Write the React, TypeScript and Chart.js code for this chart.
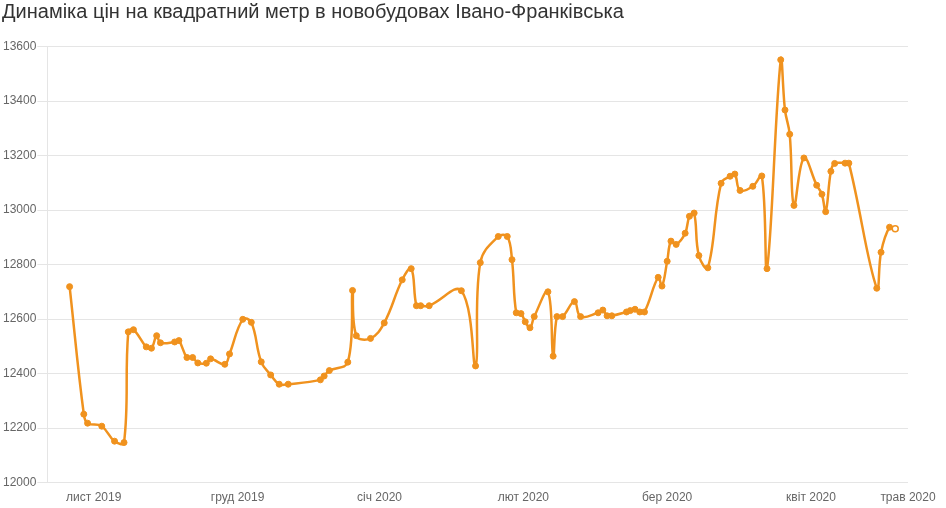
import React, { useEffect, useRef } from "react";
import { Chart, registerables } from "chart.js";

Chart.register(...registerables);

// Days counted from 1 Nov 2019
const days: number[] = [
  -5.1, -2.1, -1.3, 1.7, 4.4, 6.4, 7.3, 8.4, 11.1, 12.2,
  13.3, 14.1, 17.1, 18.0, 19.7, 20.9, 22.0, 23.8, 24.7, 27.7,
  28.7, 31.5, 33.3, 35.4, 37.4, 39.2, 41.1, 47.9, 48.7, 49.8,
  53.7, 54.7, 55.5, 58.5, 61.4, 65.2, 67.1, 68.2, 69.1, 70.9,
  77.7, 80.7, 81.7, 85.5, 87.4, 88.4, 89.3, 90.3, 91.2, 92.2,
  93.1, 96.0, 97.1, 97.9, 99.1, 101.6, 102.9, 106.6, 107.6, 108.5,
  109.5, 112.6, 113.4, 114.4, 115.4, 116.4, 119.3, 120.1, 121.2, 122.0,
  123.1, 125.0, 125.9, 126.9, 127.9, 129.8, 132.6, 134.5, 135.5, 136.6,
  139.3, 141.2, 142.3, 145.2, 146.1, 147.1, 148.0, 150.1, 152.8, 153.9,
  154.7, 155.8, 156.6, 158.8, 159.6, 165.5, 166.4, 168.2, 169.4,
];

const prices: number[] = [
  12719, 12251, 12218, 12207, 12152, 12147, 12553, 12561, 12498, 12493,
  12539, 12513, 12516, 12521, 12459, 12459, 12439, 12438, 12454, 12434,
  12472, 12599, 12588, 12443, 12395, 12361, 12361, 12377, 12391, 12411,
  12442, 12705, 12539, 12529, 12586, 12744, 12785, 12649, 12649, 12649,
  12704, 12428, 12807, 12903, 12903, 12818, 12623, 12620, 12590, 12568,
  12609, 12700, 12464, 12609, 12609, 12664, 12609, 12623, 12633, 12612,
  12612, 12626, 12631, 12636, 12626, 12626, 12753, 12721, 12812, 12886,
  12874, 12915, 12977, 12989, 12833, 12788, 13098, 13124, 13132, 13072,
  13087, 13125, 12785, 13551, 13367, 13278, 13017, 13191, 13091, 13058,
  12994, 13142, 13171, 13172, 13172, 12713, 12845, 12937, 12931,
];

const tickValues: number[] = [0, 30.4, 60.4, 90.8, 121.2, 151.6, 172.1];
const tickLabels: string[] = [
  "лист 2019",
  "груд 2019",
  "січ 2020",
  "лют 2020",
  "бер 2020",
  "квіт 2020",
  "трав 2020",
];

const titleText = "Динаміка цін на квадратний метр в новобудовах Івано-Франківська";

const X_MIN = -9.8;
const X_MAX = 172.1;
const Y_MIN = 12000;
const Y_MAX = 13600;
const Y_STEP = 200;

const ORANGE = "#f0921e";
const FONT = "'Liberation Sans', Arial, sans-serif";

export default function App() {
  const canvasRef = useRef<HTMLCanvasElement | null>(null);

  useEffect(() => {
    if (!canvasRef.current) return;
    const lastIndex = prices.length - 1;
    const chart = new Chart(canvasRef.current, {
      type: "line",
      data: {
        datasets: [
          {
            data: days.map((d, i) => ({ x: d, y: prices[i] })),
            borderColor: ORANGE,
            backgroundColor: ORANGE,
            borderWidth: 2.5,
            pointRadius: 3,
            pointBorderWidth: prices.map((_, i) => (i === lastIndex ? 1.5 : 1)),
            pointBackgroundColor: prices.map((_, i) => (i === lastIndex ? "#ffffff" : ORANGE)),
            pointBorderColor: ORANGE,
            tension: 0.4,
            fill: false,
          },
        ],
      },
      options: {
        animation: false,
        responsive: true,
        maintainAspectRatio: false,
        layout: { padding: { left: 2, right: 38, top: 0, bottom: -5 } },
        plugins: {
          legend: { display: false },
          tooltip: { enabled: false },
          title: {
            display: true,
            text: titleText,
            align: "start",
            color: "#333",
            font: { family: FONT, size: 20, weight: "normal" },
            padding: { top: 0, bottom: 22.5 },
          },
        },
        scales: {
          x: {
            type: "linear",
            min: X_MIN,
            max: X_MAX,
            afterBuildTicks: (axis: any) => {
              axis.ticks = tickValues.map((v) => ({ value: v }));
            },
            ticks: {
              autoSkip: false,
              maxRotation: 0,
              padding: 8,
              color: "#666",
              font: { family: FONT, size: 12 },
              callback: (_v: any, i: number) => tickLabels[i],
            },
            grid: { display: false, drawTicks: false, tickLength: 0 },
            border: { display: false },
          },
          y: {
            min: Y_MIN,
            max: Y_MAX,
            ticks: {
              stepSize: Y_STEP,
              padding: 1,
              color: "#666",
              font: { family: FONT, size: 12 },
              callback: (v: any) => String(v),
            },
            grid: { color: "rgba(0,0,0,0.1)", tickLength: 10 },
            border: { display: true, color: "rgba(0,0,0,0.1)" },
          },
        },
      },
    });
    return () => chart.destroy();
  }, []);

  return (
    <div style={{ position: "absolute", left: 0, top: 0, width: 946, height: 508 }}>
      <canvas ref={canvasRef} />
    </div>
  );
}
